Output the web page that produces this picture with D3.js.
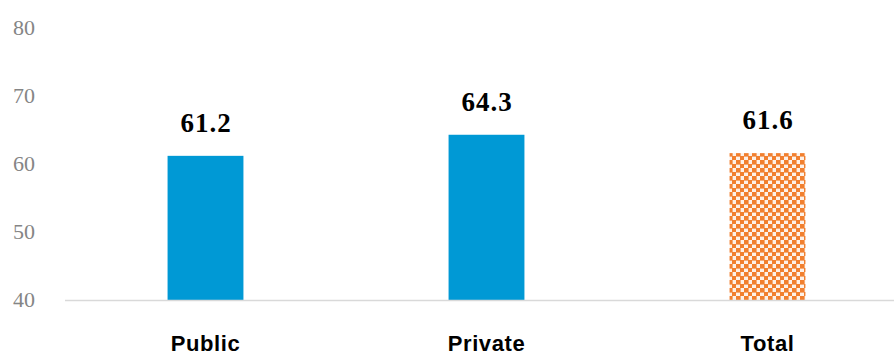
<!DOCTYPE html>
<html>
<head>
<meta charset="utf-8">
<script src="https://cdn.jsdelivr.net/npm/d3@7"></script>
<style>
  html, body { margin: 0; padding: 0; background: #fff; }
  svg { display: block; }
</style>
</head>
<body>
<svg id="chart" width="894" height="356"></svg>
<script>
// Chart data
const categories = ["Public", "Private", "Total"];
const values = [61.2, 64.3, 61.6];
const valueLabels = ["61.2", "64.3", "61.6"];
const yTicks = [40, 50, 60, 70, 80];

const svg = d3.select("#chart");

// Checkered fill for the total bar
const defs = svg.append("defs");
const pat = defs.append("pattern")
  .attr("id", "checker")
  .attr("patternUnits", "userSpaceOnUse")
  .attr("width", 8).attr("height", 8);
pat.append("rect").attr("width", 8).attr("height", 8).attr("fill", "#fdf1e8");
pat.append("rect").attr("x", 0).attr("y", 0).attr("width", 4.6).attr("height", 4.6).attr("fill", "#f17f2e");
pat.append("rect").attr("x", 4).attr("y", 4).attr("width", 4.6).attr("height", 4.6).attr("fill", "#f17f2e");

const x = d3.scaleBand()
  .domain(categories)
  .range([65, 908])
  .paddingInner(0.73)
  .paddingOuter(0.365);

const y = d3.scaleLinear()
  .domain([40, 80])
  .range([300, 28]);

// Y tick labels
const yAxis = d3.axisLeft(y)
  .tickValues(yTicks)
  .tickSize(0)
  .tickPadding(0)
  .tickFormat(d3.format("d"));
const gy = svg.append("g")
  .attr("transform", "translate(35,-1)")
  .call(yAxis);
gy.select(".domain").remove();
gy.selectAll("text")
  .attr("font-family", "'Liberation Serif', 'Times New Roman', serif")
  .attr("font-size", 22)
  .attr("fill", "#858585");

// Bars
svg.append("g").selectAll("rect")
  .data(categories)
  .join("rect")
  .attr("x", d => x(d))
  .attr("width", x.bandwidth())
  .attr("y", (d, i) => y(values[i]))
  .attr("height", (d, i) => y(40) - y(values[i]))
  .attr("fill", (d, i) => i === 2 ? "url(#checker)" : "#0099d5");

// Baseline
svg.append("line")
  .attr("x1", 65).attr("x2", 894)
  .attr("y1", y(40) + 0.5).attr("y2", y(40) + 0.5)
  .attr("stroke", "#d9d9d9")
  .attr("stroke-width", 1.5);

// Value labels
svg.append("g").selectAll("text")
  .data(categories)
  .join("text")
  .attr("x", d => x(d) + x.bandwidth() / 2 + 0.5)
  .attr("y", (d, i) => y(values[i]) - 24)
  .attr("text-anchor", "middle")
  .attr("font-family", "'Liberation Serif', 'Times New Roman', serif")
  .attr("font-weight", "bold")
  .attr("font-size", 27)
  .attr("letter-spacing", 1)
  .attr("fill", "#000")
  .text((d, i) => valueLabels[i]);

// Category labels
const xAxis = d3.axisBottom(x).tickSize(0).tickPadding(0);
const gx = svg.append("g")
  .attr("transform", "translate(0,335)")
  .call(xAxis);
gx.select(".domain").remove();
gx.selectAll("text")
  .attr("font-family", "'Liberation Sans', Arial, sans-serif")
  .attr("font-weight", "bold")
  .attr("font-size", 22)
  .attr("letter-spacing", 0.6)
  .attr("fill", "#000");
</script>
</body>
</html>
